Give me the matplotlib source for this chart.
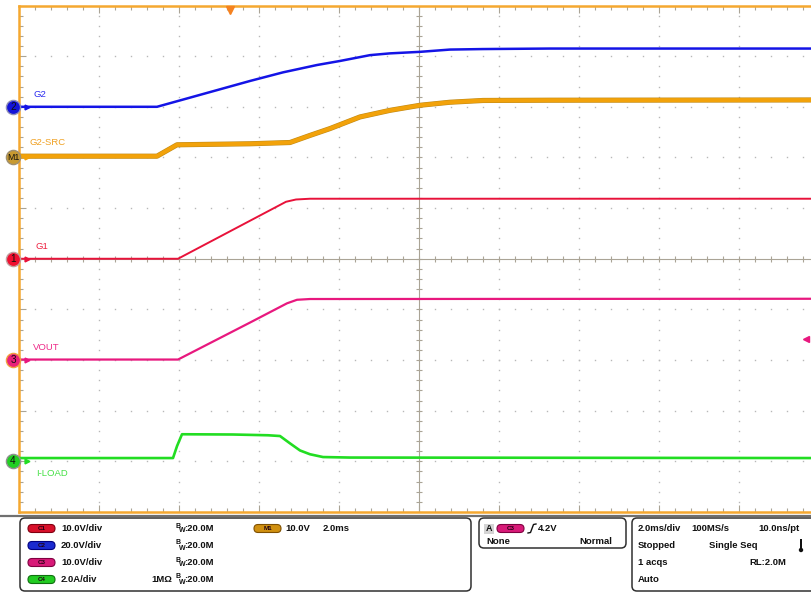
import matplotlib.pyplot as plt
from matplotlib.patches import FancyBboxPatch, Rectangle, Circle
from matplotlib.transforms import blended_transform_factory
import matplotlib.patheffects as pe
import numpy as np

plt.rcParams['font.family'] = ['Liberation Sans', 'DejaVu Sans']

# --- captured waveforms, time in ms (trigger = 0), 2.0 ms/div ---
g2_t = [-5.3, -1.825, 0.5, 1.325, 2.175, 2.75, 3.5, 4.0, 4.75, 5.5, 6.325, 8.0, 14.6]
g2_v = [0.0, 0.0, 10.2, 13.6, 16.5, 18.1, 20.4, 21.1, 21.7, 22.6, 22.8, 23.0, 23.0]

g2src_t = [-5.3, -1.825, -1.325, 0.5, 1.5, 2.0, 2.5, 3.25, 4.0, 4.75, 5.5, 6.325, 8.0, 14.6]
g2src_v = [0.25, 0.25, 2.5, 2.7, 2.95, 4.35, 5.7, 8.0, 9.3, 10.3, 10.9, 11.25, 11.3, 11.35]

g1_t = [-5.3, -1.3, 0.5, 1.4, 1.65, 2.0, 14.6]
g1_v = [0.0, 0.0, 7.5, 11.25, 11.7, 11.85, 11.85]

vout_t = [-5.3, -1.3, 0.5, 1.425, 1.675, 2.0, 14.6]
vout_v = [0.1, 0.1, 7.4, 11.2, 11.9, 12.05, 12.1]

iload_t = [-5.3, -1.425, -1.325, -1.2, 0.075, 0.95, 1.25, 1.5, 1.75, 2.0, 2.325, 3.0, 14.6]
iload_a = [0.13, 0.13, 0.6, 1.07, 1.06, 1.03, 1.0, 0.71, 0.43, 0.28, 0.17, 0.15, 0.13]

ch_names = ["G2", "G2-SRC", "G1", "VOUT", "I-LOAD"]
ch_tags = ["2", "M1", "1", "3", "4"]
ch_scale = [20.0, 10.0, 10.0, 10.0, 2.0]     # units/div
ch_offset = [3.0, 2.0, 0.0, -2.0, -4.0]       # divisions
trig_level = 4.2                               # V on C3

# --- styling ---
ch_colors = ["#1414e6", "#f2a20a", "#e8123a", "#e8187e", "#22dd22"]
ch_label_colors = ["#2a2af0", "#f0a020", "#ee2040", "#ee2a88", "#44e044"]
ch_lw = [1.8, 2.9, 1.4, 1.6, 1.9]
mark_face = ["#1414d8", "#c89a30", "#f01030", "#e8207a", "#22d022"]
mark_edge = ["#9090b8", "#a09070", "#c0a0a0", "#f0a040", "#909090"]
label_px = [34, 30, 35, 33, 36]
label_dy = [0.24, 0.30, 0.24, 0.24, -0.24]

ORANGE = "#f5a830"
GRID = "#b8b8b8"
TICK = "#aaa496"

W, H = 811, 593
fig = plt.figure(figsize=(W / 100, H / 100), dpi=100)

# info panel in pixel coords
axi = fig.add_axes([0, 0, 1, 1], zorder=0)
axi.set_xlim(0, W)
axi.set_ylim(H, 0)
axi.axis("off")

# scope screen
left_px, top_px, bot_px = 19, 5.5, 512
ax = fig.add_axes([left_px / W, (H - bot_px) / H, (W - left_px) / W, (bot_px - top_px) / H], zorder=2)
t_left = (left_px - 230) / 40.0
t_right = (W - 230) / 40.0
ax.set_xlim(t_left, t_right)
ax.set_ylim(-5, 5)
ax.set_facecolor("none")

center_t = t_left + 10.0
major_x = [center_t + 2 * k for k in range(-4, 5)]
minor_x = np.arange(t_left, t_right, 0.4)
minor_y = np.arange(-5, 5.01, 0.2)

# dotted graticule
for x in major_x:
    if abs(x - center_t) > 1e-6:
        ax.plot(np.full(len(minor_y), x), minor_y, ls="none", marker="s", ms=1.0,
                color=GRID, mec="none", zorder=1)
for y in range(-4, 5):
    if y != 0:
        ax.plot(minor_x, np.full(len(minor_x), y), ls="none", marker="s", ms=1.0,
                color=GRID, mec="none", zorder=1)

# center cross with ticks
ax.axvline(center_t, color=TICK, lw=0.8, zorder=1)
ax.axhline(0, color=TICK, lw=0.8, zorder=1)
ax.plot(minor_x, np.zeros(len(minor_x)), ls="none", marker="|", ms=4.5, mew=0.8, color=TICK, zorder=1)
ax.plot(np.full(len(minor_y), center_t), minor_y, ls="none", marker="_", ms=4.5, mew=0.8, color=TICK, zorder=1)

# border ticks
ax.set_xticks(major_x)
ax.set_xticks(minor_x, minor=True)
ax.set_yticks(range(-5, 6))
ax.set_yticks(minor_y, minor=True)
ax.tick_params(axis="x", which="both", direction="in", top=True, bottom=True,
               labelbottom=False, color=TICK, width=0.8)
ax.tick_params(axis="y", which="both", direction="in", left=True, right=False,
               labelleft=False, color=TICK, width=0.8)
ax.tick_params(which="major", length=5)
ax.tick_params(which="minor", length=3)
for side in ["left", "top", "bottom"]:
    ax.spines[side].set_color(ORANGE)
    ax.spines[side].set_linewidth(1.8)
ax.spines["right"].set_visible(False)

# waveforms
traces = [(g2_t, g2_v), (g2src_t, g2src_v), (g1_t, g1_v), (vout_t, vout_v), (iload_t, iload_a)]
zo = [6, 5, 4, 4, 4]
for i, (t, v) in enumerate(traces):
    y = np.array(v) / ch_scale[i] + ch_offset[i]
    kw = {}
    if ch_names[i] == "G2-SRC":
        kw["path_effects"] = [pe.Stroke(linewidth=3.7, foreground="#c08a18"), pe.Normal()]
    ax.plot(t, y, color=ch_colors[i], lw=ch_lw[i], zorder=zo[i], solid_joinstyle="round", **kw)

# channel markers and labels
trans = blended_transform_factory(ax.transAxes, ax.transData)
wpx = W - left_px
for i in range(len(ch_names)):
    off = ch_offset[i]
    ax.plot([(13 - left_px) / wpx], [off], transform=trans, marker="o", ms=10.2,
            mfc=mark_face[i], mec=mark_edge[i], mew=1.0, clip_on=False, zorder=8)
    ax.text((13 - left_px) / wpx, off, ch_tags[i], transform=trans, ha="center", va="center",
            fontsize=6.3 if len(ch_tags[i]) > 1 else 7.2, color="#101010", zorder=9)
    ax.plot([(27 - left_px) / wpx], [off], transform=trans, marker=">", ms=3.5,
            color=ch_colors[i], clip_on=False, zorder=8)
    ax.text((label_px[i] - left_px) / wpx, off + label_dy[i], ch_names[i], transform=trans,
            ha="left", va="center", fontsize=6.8, color=ch_label_colors[i], zorder=8)

# trigger position and level markers
ax.plot([0], [4.92], marker="v", ms=5.5, color="#f58220", clip_on=False, zorder=8)
ax.plot([(806 - 230) / 40.0], [ch_offset[3] + trig_level / ch_scale[3]], marker="<", ms=5,
        color=ch_colors[3], clip_on=False, zorder=8)

# ---------------- info panel ----------------
axi.plot([0, W], [515.5, 515.5], color="#707070", lw=1.6)


def box(x, y, w, h):
    axi.add_patch(FancyBboxPatch((x, y), w, h, boxstyle="round,pad=0,rounding_size=5",
                                 fc="white", ec="#303030", lw=1.1))


def pill(x, y, label, fc, ec):
    axi.add_patch(FancyBboxPatch((x, y - 4), 27, 8, boxstyle="round,pad=0,rounding_size=4",
                                 fc=fc, ec=ec, lw=0.8))
    axi.text(x + 13.5, y, label, ha="center", va="center", fontsize=4.5, color="#200010",
             fontweight="bold")


def txt(x, y, s, ha="left"):
    axi.text(x, y, s, ha=ha, va="center", fontsize=6.8, fontweight="bold", color="#111111")


def bw(x, y):
    axi.text(x, y - 2.5, "B", ha="left", va="center", fontsize=5, fontweight="bold", color="#111111")
    axi.text(x + 3.5, y + 2.5, "W", ha="left", va="center", fontsize=5, fontweight="bold", color="#111111")
    txt(x + 9, y, ":20.0M")


box(20, 518, 451, 73)
box(479, 518, 147, 30)
box(632, 518, 200, 73)

rows = [528.5, 545.5, 562.5, 579.5]
pill_fc = ["#d8102a", "#1a2ad0", "#d81a78", "#22cc22"]
pill_ec = ["#800010", "#000080", "#800040", "#107010"]
vdiv = ["10.0V/div", "20.0V/div", "10.0V/div", "2.0A/div"]
for r, y in enumerate(rows):
    pill(28, y, f"C{r + 1}", pill_fc[r], pill_ec[r])
    txt(61, y, vdiv[r])
    bw(175, y)
txt(151, rows[3], "1M\u03a9")
pill(254, rows[0], "M1", "#d09010", "#805000")
txt(285, rows[0], "10.0V")
txt(323, rows[0], "2.0ms")

# trigger box
axi.add_patch(Rectangle((484, 523.5), 10, 10, fc="#d4d4d4", ec="none"))
axi.text(489, 528.5, "A", ha="center", va="center", fontsize=6.5, fontweight="bold", color="#111111")
pill(497, rows[0], "C3", "#d81a78", "#800040")
axi.plot([528, 530.5, 532, 533.5, 536], [533, 532.5, 528.5, 524.5, 524], color="#111111", lw=1.0)
txt(538, rows[0], "4.2V")
txt(486, 542, "None")
txt(612, 542, "Normal", ha="right")

# acquisition box
txt(638, rows[0], "2.0ms/div")
txt(691, rows[0], "100MS/s")
txt(758, rows[0], "10.0ns/pt")
txt(638, rows[1], "Stopped")
txt(709, rows[1], "Single Seq")
txt(638, rows[2], "1 acqs")
txt(749, rows[2], "RL:2.0M")
txt(638, rows[3], "Auto")
axi.add_patch(Rectangle((800, 539), 2, 10, fc="#111111", ec="none"))
axi.add_patch(Circle((801, 550), 2.2, fc="#111111", ec="none"))

fig.savefig("out.png", dpi=100, facecolor="white")
